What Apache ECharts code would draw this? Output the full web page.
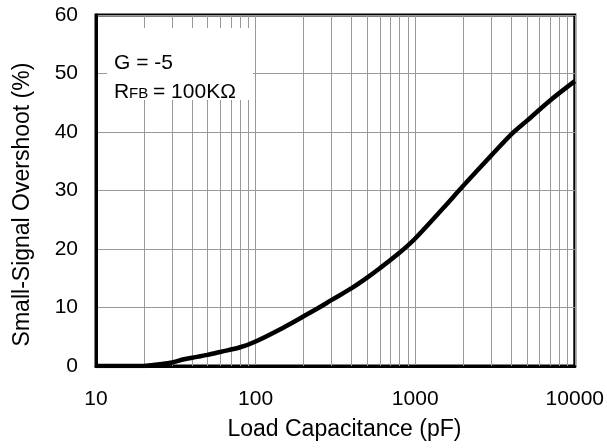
<!DOCTYPE html>
<html>
<head>
<meta charset="utf-8">
<script src="https://cdn.jsdelivr.net/npm/echarts@6/dist/echarts.min.js"></script>
<style>
html,body{margin:0;padding:0;background:#fff;}
#chart{width:607px;height:448px;}
</style>
</head>
<body>
<div id="chart"></div>
<script>
// Load capacitance (pF) and small-signal overshoot (%)
var capacitance = [10, 15, 20, 25, 30, 35, 40, 50, 60, 80, 100, 150, 200, 250, 300, 400, 500, 600, 800, 1000, 1500, 2000, 3000, 4000, 5000, 7000, 10000];
var overshoot   = [0, 0, 0, 0.3, 0.6, 1.1, 1.4, 1.9, 2.4, 3.2, 4.2, 6.6, 8.5, 10.0, 11.3, 13.3, 15.1, 16.7, 19.4, 21.8, 27.0, 30.8, 36.0, 39.6, 41.9, 45.4, 48.7];
var minorGridX  = [20, 30, 40, 50, 60, 70, 80, 90, 200, 300, 400, 500, 600, 700, 800, 900, 2000, 3000, 4000, 5000, 6000, 7000, 8000, 9000];
var yTicks      = [0, 10, 20, 30, 40, 50, 60];
var xTicks      = [10, 100, 1000, 10000];

var FONT = "'Liberation Sans', Arial, sans-serif";
var chart = echarts.init(document.getElementById('chart'), null, {renderer: 'canvas'});
var data = capacitance.map(function (c, i) { return [c, overshoot[i]]; });

chart.setOption({
  animation: false,
  backgroundColor: '#ffffff',
  grid: {left: 96, top: 15, right: 32, bottom: 82, show: true, borderColor: '#000', borderWidth: 3, backgroundColor: 'transparent'},
  xAxis: {
    type: 'log', logBase: 10, min: xTicks[0], max: xTicks[xTicks.length - 1],
    name: 'Load Capacitance (pF)', nameLocation: 'middle', nameGap: 52,
    nameTextStyle: {fontFamily: FONT, fontSize: 23, color: '#000', padding: [0, 0, 0, 18]},
    axisLine: {show: true, lineStyle: {color: '#000', width: 3}},
    axisTick: {show: false},
    axisLabel: {fontFamily: FONT, fontSize: 21, color: '#000', margin: 23,
      formatter: function (v) { return String(Math.round(v)); }},
    splitLine: {show: true, lineStyle: {color: '#999', width: 1}}
  },
  yAxis: {
    type: 'value', min: yTicks[0], max: yTicks[yTicks.length - 1], interval: 10,
    name: 'Small-Signal Overshoot (%)', nameLocation: 'middle', nameGap: 62,
    nameTextStyle: {fontFamily: FONT, fontSize: 23, color: '#000', padding: [0, 28, 0, 0]},
    axisLine: {show: true, lineStyle: {color: '#000', width: 3}},
    axisTick: {show: false},
    axisLabel: {fontFamily: FONT, fontSize: 21, color: '#000', margin: 18},
    splitLine: {show: true, lineStyle: {color: '#999', width: 1}}
  },
  series: [{
    type: 'line',
    data: data,
    smooth: 0.3,
    showSymbol: false,
    lineStyle: {color: '#000', width: 4.5},
    z: 5,
    markLine: {
      silent: true,
      symbol: ['none', 'none'],
      label: {show: false},
      lineStyle: {color: '#999', width: 1, type: 'solid'},
      emphasis: {disabled: true},
      data: minorGridX.map(function (v) { return {xAxis: v}; }),
      z: 1
    }
  }],
  graphic: {
    elements: [
      {type: 'rect', z: 100, shape: {x: 107, y: 28, width: 146, height: 72}, style: {fill: '#fff'}},
      {type: 'text', z: 101, x: 114, y: 53, style: {text: 'G = -5', font: '21px ' + FONT, fill: '#000', textBaseline: 'alphabetic'}},
      {type: 'text', z: 101, x: 114, y: 82, style: {text: 'R', font: '21px ' + FONT, fill: '#000', textBaseline: 'alphabetic'}},
      {type: 'text', z: 101, x: 129, y: 86, style: {text: 'FB', font: '15px ' + FONT, fill: '#000', textBaseline: 'alphabetic'}},
      {type: 'text', z: 101, x: 153, y: 82, style: {text: '= 100KΩ', font: '21px ' + FONT, fill: '#000', textBaseline: 'alphabetic'}}
    ]
  }
});
</script>
</body>
</html>
